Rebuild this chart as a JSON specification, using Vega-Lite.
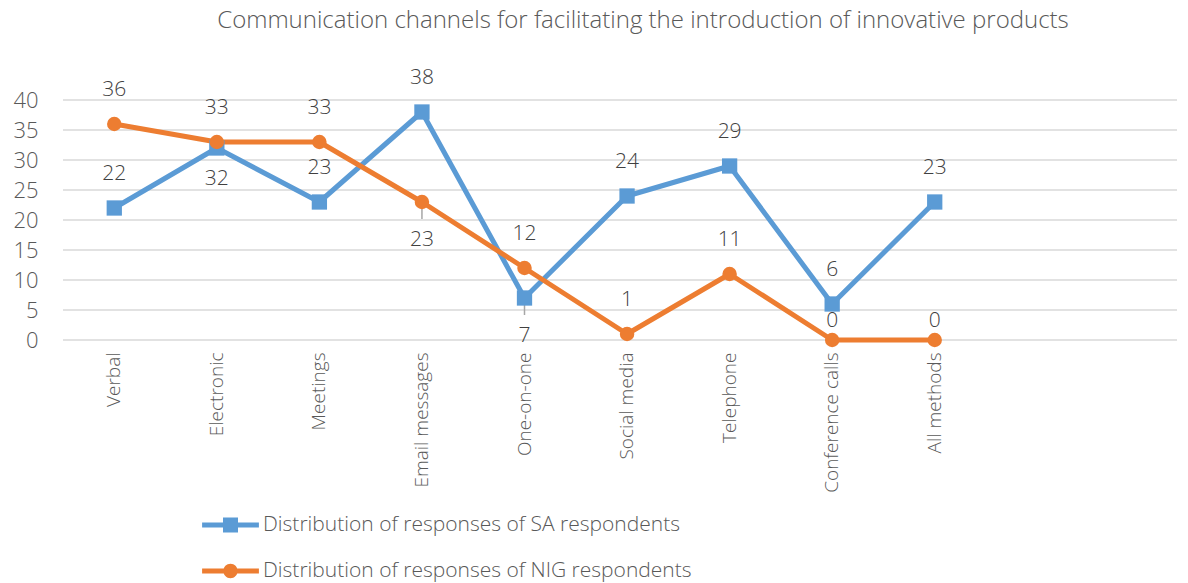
{
  "$schema": "https://vega.github.io/schema/vega-lite/v6.json",
  "width": 1114,
  "height": 240,
  "autosize": {"type": "none"},
  "padding": {"left": 63, "top": 100, "right": 11, "bottom": 243},
  "background": "white",
  "config": {"view": {"stroke": null}, "font": "Open Sans", "axis": {"labelOverlap": false}, "axisY": {"labelOverlap": false}},
  "title": {
    "text": "Communication channels for facilitating the introduction of innovative products",
    "fontSize": 24,
    "font": "Open Sans",
    "fontWeight": 300,
    "color": "#595959",
    "anchor": "middle",
    "frame": "group",
    "dx": 23,
    "offset": 34
  },
  "datasets": {
    "main": [
      {"channel": "Verbal", "series": "Distribution of responses of SA respondents", "value": 22, "pos": "above", "leader": false},
      {"channel": "Electronic", "series": "Distribution of responses of SA respondents", "value": 32, "pos": "below", "leader": false},
      {"channel": "Meetings", "series": "Distribution of responses of SA respondents", "value": 23, "pos": "above", "leader": false},
      {"channel": "Email messages", "series": "Distribution of responses of SA respondents", "value": 38, "pos": "above", "leader": false},
      {"channel": "One-on-one", "series": "Distribution of responses of SA respondents", "value": 7, "pos": "below", "leader": true},
      {"channel": "Social media", "series": "Distribution of responses of SA respondents", "value": 24, "pos": "above", "leader": false},
      {"channel": "Telephone", "series": "Distribution of responses of SA respondents", "value": 29, "pos": "above", "leader": false},
      {"channel": "Conference calls", "series": "Distribution of responses of SA respondents", "value": 6, "pos": "above", "leader": false},
      {"channel": "All methods", "series": "Distribution of responses of SA respondents", "value": 23, "pos": "above", "leader": false},
      {"channel": "Verbal", "series": "Distribution of responses of NIG respondents", "value": 36, "pos": "above", "leader": false},
      {"channel": "Electronic", "series": "Distribution of responses of NIG respondents", "value": 33, "pos": "above", "leader": false},
      {"channel": "Meetings", "series": "Distribution of responses of NIG respondents", "value": 33, "pos": "above", "leader": false},
      {"channel": "Email messages", "series": "Distribution of responses of NIG respondents", "value": 23, "pos": "below", "leader": true},
      {"channel": "One-on-one", "series": "Distribution of responses of NIG respondents", "value": 12, "pos": "above", "leader": false},
      {"channel": "Social media", "series": "Distribution of responses of NIG respondents", "value": 1, "pos": "above", "leader": false},
      {"channel": "Telephone", "series": "Distribution of responses of NIG respondents", "value": 11, "pos": "above", "leader": false},
      {"channel": "Conference calls", "series": "Distribution of responses of NIG respondents", "value": 0, "pos": "near", "leader": false},
      {"channel": "All methods", "series": "Distribution of responses of NIG respondents", "value": 0, "pos": "near", "leader": false}
    ],
    "grid": [{"t": 0}, {"t": 5}, {"t": 10}, {"t": 15}, {"t": 20}, {"t": 25}, {"t": 30}, {"t": 35}, {"t": 40}]
  },
  "layer": [
    {
      "data": {"name": "grid"},
      "mark": {"type": "rule", "color": "#d9d9d9", "strokeWidth": 1.5},
      "encoding": {
        "y": {
          "field": "t",
          "type": "quantitative",
          "scale": {"domain": [0, 40], "nice": false},
          "axis": {
            "title": null,
            "values": [0, 5, 10, 15, 20, 25, 30, 35, 40],
            "labelOverlap": false,
            "labelFontSize": 22,
            "labelFont": "Open Sans",
            "labelFontWeight": 300,
            "labelColor": "#595959",
            "labelPadding": 25,
            "ticks": false,
            "domain": false,
            "grid": false
          }
        }
      }
    },
    {
      "data": {"name": "main"},
      "encoding": {
        "x": {
          "field": "channel",
          "type": "nominal",
          "sort": null,
          "scale": {
            "type": "band",
            "domain": ["Verbal", "Electronic", "Meetings", "Email messages", "One-on-one", "Social media", "Telephone", "Conference calls", "All methods"],
            "range": [0, 923],
            "paddingInner": 0,
            "paddingOuter": 0
          },
          "axis": {
            "title": null,
            "labelAngle": -90,
            "labelAlign": "right",
            "labelBaseline": "middle",
            "labelPadding": 12,
            "labelFontSize": 19,
            "labelFont": "Open Sans",
            "labelFontWeight": 300,
            "labelColor": "#595959",
            "ticks": false,
            "domain": false,
            "grid": false
          }
        },
        "y": {
          "field": "value",
          "type": "quantitative",
          "axis": {
            "title": null,
            "values": [0, 5, 10, 15, 20, 25, 30, 35, 40],
            "labelOverlap": false,
            "labelFontSize": 22,
            "labelFont": "Open Sans",
            "labelFontWeight": 300,
            "labelColor": "#595959",
            "labelPadding": 25,
            "ticks": false,
            "domain": false,
            "grid": false
          }
        }
      },
      "layer": [
        {
          "transform": [{"filter": "datum.leader"}],
          "mark": {"type": "rule", "color": "#a6a6a6", "strokeWidth": 1.5, "yOffset": 4, "y2Offset": 17},
          "encoding": {"y2": {"field": "value"}}
        },
        {
          "mark": {"type": "line", "strokeWidth": 5, "strokeJoin": "round", "strokeCap": "round"},
          "encoding": {
            "color": {
              "field": "series",
              "type": "nominal",
              "scale": {
                "domain": ["Distribution of responses of SA respondents", "Distribution of responses of NIG respondents"],
                "range": ["#5b9bd5", "#ed7d31"]
              },
              "legend": {
                "orient": "none",
                "legendX": 147.5,
                "legendY": 405,
                "direction": "vertical",
                "title": null,
                "symbolSize": 1600,
                "labelFontSize": 21,
                "labelFont": "Open Sans",
                "labelFontWeight": 300,
                "labelColor": "#595959",
                "rowPadding": 16,
                "labelOffset": 12.5,
                "labelLimit": 0,
                "encode": {
                  "symbols": {
                    "update": {
                      "shape": {"signal": "datum.value === 'Distribution of responses of SA respondents' ? 'M-1.42,-0.125H1.42V0.125H-1.42Z M-0.375,-0.375H0.375V0.375H-0.375Z' : 'M-1.42,-0.125H1.42V0.125H-1.42Z M0.36,0A0.36,0.36 0 1,1 -0.36,0A0.36,0.36 0 1,1 0.36,0Z'"},
                      "fill": {"signal": "datum.value === 'Distribution of responses of SA respondents' ? '#5b9bd5' : '#ed7d31'"},
                      "fillOpacity": {"value": 1},
                      "strokeWidth": {"value": 0}
                    }
                  }
                }
              }
            }
          }
        },
        {
          "transform": [{"filter": "datum.series === 'Distribution of responses of SA respondents'"}],
          "mark": {"type": "point", "shape": "square", "filled": true, "opacity": 1, "size": 234},
          "encoding": {"color": {"field": "series", "type": "nominal"}}
        },
        {
          "transform": [{"filter": "datum.series === 'Distribution of responses of NIG respondents'"}],
          "mark": {"type": "point", "shape": "circle", "filled": true, "opacity": 1, "size": 210},
          "encoding": {"color": {"field": "series", "type": "nominal"}}
        },
        {
          "transform": [{"filter": "datum.pos === 'above'"}],
          "mark": {"type": "text", "dy": -34, "fontSize": 21, "font": "Open Sans", "fontWeight": 300, "color": "#404040"},
          "encoding": {"text": {"field": "value", "type": "quantitative"}}
        },
        {
          "transform": [{"filter": "datum.pos === 'near'"}],
          "mark": {"type": "text", "dy": -19, "fontSize": 21, "font": "Open Sans", "fontWeight": 300, "color": "#404040"},
          "encoding": {"text": {"field": "value", "type": "quantitative"}}
        },
        {
          "transform": [{"filter": "datum.pos === 'below' && !datum.leader"}],
          "mark": {"type": "text", "dy": 31, "fontSize": 21, "font": "Open Sans", "fontWeight": 300, "color": "#404040"},
          "encoding": {"text": {"field": "value", "type": "quantitative"}}
        },
        {
          "transform": [{"filter": "datum.pos === 'below' && datum.leader"}],
          "mark": {"type": "text", "dy": 38, "fontSize": 21, "font": "Open Sans", "fontWeight": 300, "color": "#404040"},
          "encoding": {"text": {"field": "value", "type": "quantitative"}}
        }
      ]
    }
  ]
}
